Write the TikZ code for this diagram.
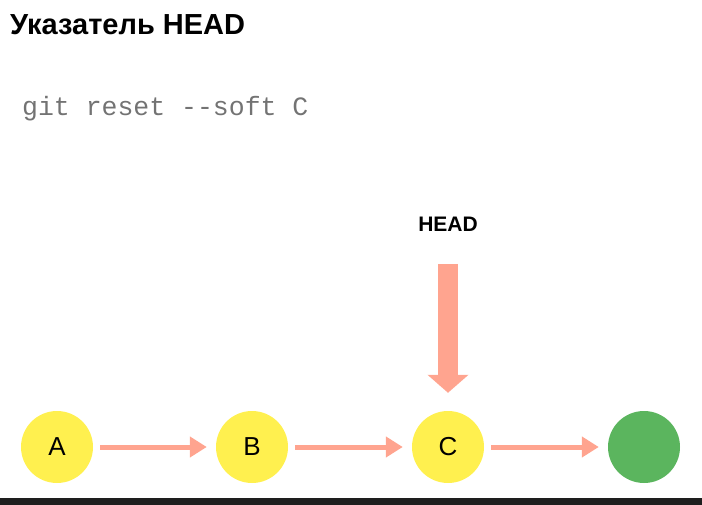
\documentclass[tikz,border=0pt]{standalone}
\usepackage{fontspec}
\setmainfont{Liberation Sans}
\newfontfamily\codefont{Liberation Mono}
\usetikzlibrary{arrows.meta}

\definecolor{commit}{HTML}{FFF04F}
\definecolor{tipgreen}{HTML}{5BB55E}
\definecolor{salmon}{HTML}{FFA48F}
\definecolor{bar}{HTML}{1E1E1E}

\begin{document}
\begin{tikzpicture}[x=1pt,y=-1pt,
  commitnode/.style={circle,fill=commit,minimum size=72pt,inner sep=0pt,font=\fontsize{26}{26}\selectfont},
  link/.style={salmon,line width=5pt,-{Triangle[width=20pt,length=17pt]},shorten <=7pt,shorten >=9pt},
  headarrow/.style={salmon,line width=20pt,-{Triangle[width=40pt,length=18pt]}}]

\useasboundingbox (0,0) rectangle (702,505);
\fill[bar] (0,498) rectangle (702,505);

\node[anchor=base west,inner sep=0pt,font=\fontsize{29}{30}\bfseries] (title) at (10,35) {Указатель HEAD};
\node[anchor=base west,inner sep=0pt,text=black!55,font=\fontsize{26.5}{28}\codefont] (cmd) at (22,116) {git reset --soft C};

\node[commitnode] (A) at (57,447) {A};
\node[commitnode] (B) at (252,447) {B};
\node[commitnode] (C) at (448,447) {C};
\node[commitnode,fill=tipgreen] (D) at (644,447) {};

\draw[link] (A) -- (B);
\draw[link] (B) -- (C);
\draw[link] (C) -- (D);

\node[font=\fontsize{21}{21}\bfseries] (head) at (448,224) {HEAD};
\coordinate (htop) at (448,264);
\draw[headarrow,shorten >=18pt] (htop) -- (C.north);

\end{tikzpicture}
\end{document}
